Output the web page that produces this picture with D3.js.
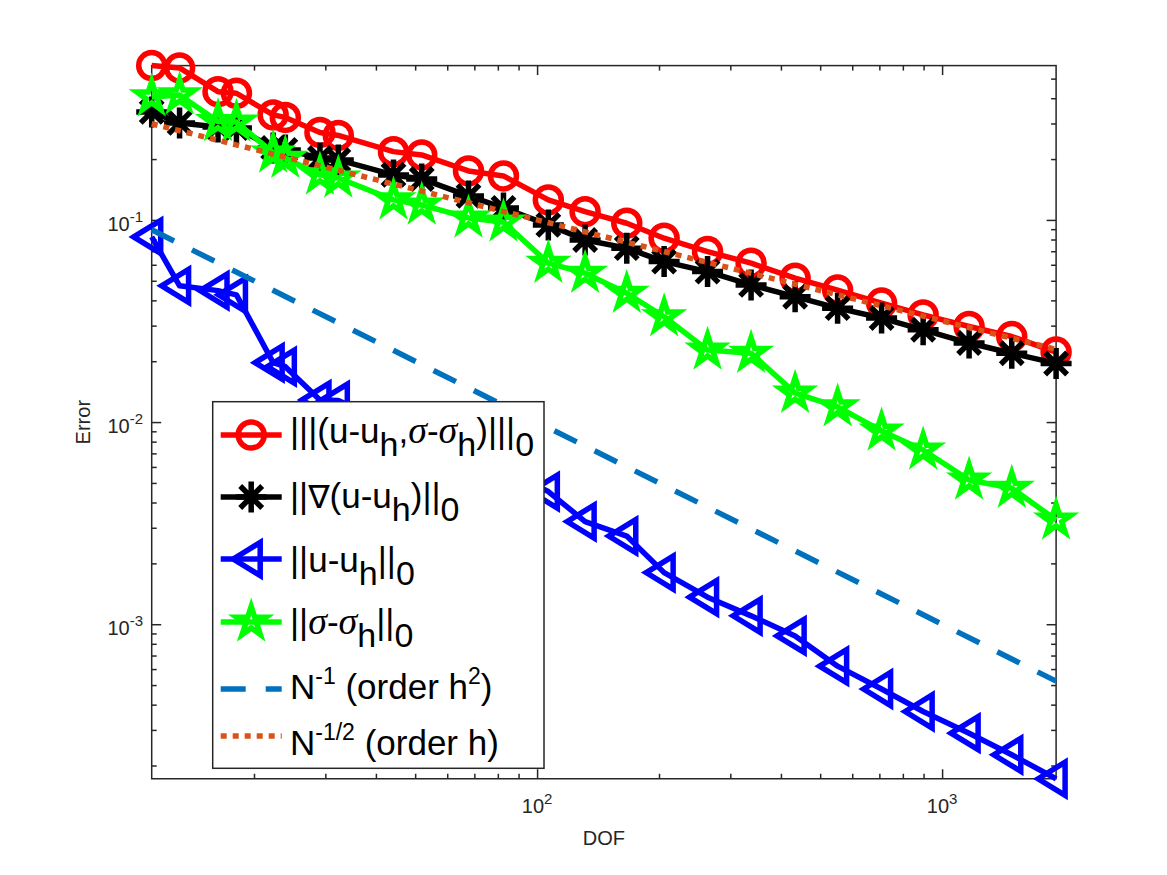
<!DOCTYPE html>
<html>
<meta charset="utf-8">
<head>
  <title>Error vs DOF</title>
  <style>
    body { margin: 0; background: white; }
    text { font-family: 'Liberation Sans', Arial, Helvetica, sans-serif; fill: #262626; white-space: pre; }
    .axis .domain { display: none; }
    .axis line { stroke: #262626; stroke-width: 1.5; }
    .frame { fill: none; stroke: #262626; stroke-width: 1.5; }
    .legend text { fill: #000000; }
  </style>
  <script src="https://d3js.org/d3.v7.min.js"></script>
</head>
<body>
<div id="chart"></div>
<script>
// degrees of freedom on each refinement level
var dof = [11.18, 13.1, 16.3, 18.1, 22.3, 23.9, 29.1, 32.3, 44.2, 51.9,
           67.7, 82.6, 106.6, 131.4, 166.5, 205.9, 263.6, 337.6, 433.6, 552.1,
           708.9, 897.8, 1166, 1486, 1912];
// |||(u-uh, sigma-sigmah)|||_0
var errEnergy = [0.580, 0.5647, 0.4311, 0.4233, 0.3307, 0.3214, 0.2709, 0.2618, 0.2177, 0.2097,
                 0.1747, 0.1651, 0.1256, 0.1099, 0.0963, 0.0812, 0.0697, 0.0611, 0.0515, 0.0450,
                 0.0388, 0.0339, 0.0297, 0.0265, 0.0222];
// ||grad(u-uh)||_0
var errGrad = [0.3422, 0.3019, 0.2884, 0.2851, 0.2271, 0.2220, 0.2026, 0.1980, 0.1670, 0.1595,
               0.1315, 0.1147, 0.0945, 0.0796, 0.0725, 0.0622, 0.0555, 0.0477, 0.0417, 0.0366,
               0.0327, 0.0286, 0.0246, 0.0219, 0.0195];
// ||u-uh||_0
var errL2 = [0.0824, 0.0472, 0.0447, 0.0426, 0.01968, 0.01880, 0.01287, 0.01277, 0.00968, 0.00884,
             0.00688, 0.00580, 0.00453, 0.00322, 0.00273, 0.00180, 0.00136, 0.00110, 0.000875, 0.000620,
             0.000478, 0.000370, 0.000289, 0.000226, 0.000172];
// ||sigma-sigmah||_0
var errSigma = [0.4060, 0.4154, 0.3064, 0.3050, 0.2145, 0.2019, 0.1670, 0.1613, 0.1256, 0.1186,
                0.1023, 0.0977, 0.0611, 0.0545, 0.0434, 0.0332, 0.0227, 0.0219, 0.0139, 0.0119,
                0.00904, 0.00728, 0.00517, 0.00471, 0.00328];
// reference slopes (end points)
var refDof = [11.18, 1912];
var refOrder2 = [0.0894, 0.000523];
var refOrder1 = [0.299, 0.0229];

var xTicks = [100, 1000];
var xTickExp = ["2", "3"];
var yTicks = [0.001, 0.01, 0.1];
var yTickExp = ["-3", "-2", "-1"];

// legend label pieces: n normal, b subscript, p superscript, s sigma, g nabla
var legendLabels = [
  [["|||(u-u","n"],["h","b"],[",","n"],["σ","s"],["-","n"],["σ","s"],["h","b"],[")|||","n"],["0","b"]],
  [["||","n"],["∇","g"],["(u-u","n"],["h","b"],[")||","n"],["0","b"]],
  [["||u-u","n"],["h","b"],["||","n"],["0","b"]],
  [["||","n"],["σ","s"],["-","n"],["σ","s"],["h","b"],["||","n"],["0","b"]],
  [["N","n"],["-1","p"],[" (order h","n"],["2","p"],[")","n"]],
  [["N","n"],["-1/2","p"],[" (order h)","n"]]
];

draw();

function draw() {
  var W = 1167, H = 875;
  var plotL = 151.7, plotT = 65.6, plotR = 1056.1, plotB = 778.75;
  var lw = 5.5;

  var svg = d3.select("#chart").append("svg")
              .attr("width", W)
              .attr("height", H);

  var allErr = errEnergy.concat(errGrad, errL2, errSigma);
  var x = d3.scaleLog().domain(d3.extent(dof)).range([plotL, plotR]);
  var y = d3.scaleLog().domain(d3.extent(allErr)).range([plotB, plotT]);

  // minor ticks
  var xMinor = [], yMinor = [];
  [10, 100].forEach(function(b) { for (var k = 2; k < 10; k++) if (b*k > x.domain()[0] && b*k < x.domain()[1]) xMinor.push(b*k); });
  [0.0001, 0.001, 0.01, 0.1].forEach(function(b) { for (var k = 2; k < 10; k++) if (b*k > y.domain()[0] && b*k < y.domain()[1]) yMinor.push(b*k); });

  function addAxis(axis, tx, ty) {
    svg.append("g").attr("class", "axis")
       .attr("transform", "translate(" + tx + "," + ty + ")")
       .call(axis);
  }
  addAxis(d3.axisBottom(x).tickValues(xTicks).tickSize(-9.5).tickSizeOuter(0).tickFormat(""), 0, plotB);
  addAxis(d3.axisBottom(x).tickValues(xMinor).tickSize(-5).tickSizeOuter(0).tickFormat(""), 0, plotB);
  addAxis(d3.axisTop(x).tickValues(xTicks).tickSize(-9.5).tickSizeOuter(0).tickFormat(""), 0, plotT);
  addAxis(d3.axisTop(x).tickValues(xMinor).tickSize(-5).tickSizeOuter(0).tickFormat(""), 0, plotT);
  addAxis(d3.axisLeft(y).tickValues(yTicks).tickSize(-9.5).tickSizeOuter(0).tickFormat(""), plotL, 0);
  addAxis(d3.axisLeft(y).tickValues(yMinor).tickSize(-5).tickSizeOuter(0).tickFormat(""), plotL, 0);
  addAxis(d3.axisRight(y).tickValues(yTicks).tickSize(-9.5).tickSizeOuter(0).tickFormat(""), plotR, 0);
  addAxis(d3.axisRight(y).tickValues(yMinor).tickSize(-5).tickSizeOuter(0).tickFormat(""), plotR, 0);

  svg.append("rect").attr("class", "frame")
     .attr("x", plotL).attr("y", plotT)
     .attr("width", plotR - plotL).attr("height", plotB - plotT);

  // tick labels 10^k
  xTicks.forEach(function(v, i) {
    var t = svg.append("text").attr("x", x(v)).attr("y", plotB + 34)
               .attr("text-anchor", "middle").style("font-size", "20px");
    t.append("tspan").text("10");
    t.append("tspan").attr("dy", -9).style("font-size", "15px").text(xTickExp[i]);
  });
  yTicks.forEach(function(v, i) {
    var t = svg.append("text").attr("x", 143).attr("y", y(v) + 11)
               .attr("text-anchor", "end").style("font-size", "20px");
    t.append("tspan").text("10");
    t.append("tspan").attr("dy", -9).style("font-size", "15px").text(yTickExp[i]);
  });

  svg.append("text").attr("x", (plotL + plotR) / 2).attr("y", 845)
     .attr("text-anchor", "middle").style("font-size", "20px").text("DOF");
  svg.append("text").attr("transform", "translate(90," + ((plotT + plotB) / 2) + ") rotate(-90)")
     .attr("text-anchor", "middle").style("font-size", "20px").text("Error");

  // marker shapes
  function circlePath() { var p = d3.path(); p.moveTo(13, 0); p.arc(0, 0, 13, 0, 2 * Math.PI); p.closePath(); return p.toString(); }
  function asteriskPath() { return "M0,-15.5L0,15.5M-15.5,0L15.5,0M-11,-11L11,11M-11,11L11,-11"; }
  function triangleLeftPath() { return "M-18,0L9,-16.5L9,16.5Z"; }
  function pentagramPath() {
    var pts = [];
    for (var k = 0; k < 10; k++) {
      var r = (k % 2 === 0) ? 15.5 : 15.5 * 0.382;
      var a = -Math.PI / 2 + k * Math.PI / 5;
      pts.push([r * Math.cos(a), r * Math.sin(a)]);
    }
    return "M" + pts.join("L") + "Z";
  }

  var series = [
    { vals: errEnergy, color: "#ff0000", marker: circlePath() },
    { vals: errGrad,   color: "#000000", marker: asteriskPath() },
    { vals: errL2,     color: "#0000ff", marker: triangleLeftPath() },
    { vals: errSigma,  color: "#00ff00", marker: pentagramPath() }
  ];

  var line = d3.line().x(function(d) { return x(d[0]); }).y(function(d) { return y(d[1]); });

  series.forEach(function(s) {
    var pts = dof.map(function(d, i) { return [d, s.vals[i]]; });
    svg.append("path").attr("d", line(pts))
       .attr("fill", "none").attr("stroke", s.color)
       .attr("stroke-width", lw).attr("stroke-linejoin", "round");
    svg.selectAll(null).data(pts).enter().append("path")
       .attr("d", s.marker)
       .attr("transform", function(d) { return "translate(" + x(d[0]) + "," + y(d[1]) + ")"; })
       .attr("fill", "none").attr("stroke", s.color).attr("stroke-width", lw);
  });

  svg.append("path").attr("d", line(refDof.map(function(d, i) { return [d, refOrder2[i]]; })))
     .attr("fill", "none").attr("stroke", "#0072bd").attr("stroke-width", lw)
     .attr("stroke-dasharray", "25,20");
  svg.append("path").attr("d", line(refDof.map(function(d, i) { return [d, refOrder1[i]]; })))
     .attr("fill", "none").attr("stroke", "#d95319").attr("stroke-width", lw)
     .attr("stroke-dasharray", "6,6");

  // legend
  var legRows = [435, 497, 559, 622, 689, 736];
  var legBase = [443, 508, 572, 634, 699, 755];
  var legStyles = [
    { color: "#ff0000", marker: circlePath() },
    { color: "#000000", marker: asteriskPath() },
    { color: "#0000ff", marker: triangleLeftPath() },
    { color: "#00ff00", marker: pentagramPath() },
    { color: "#0072bd", dash: "25,20" },
    { color: "#d95319", dash: "6,6" }
  ];
  var leg = svg.append("g").attr("class", "legend");
  leg.append("rect").attr("x", 212.7).attr("y", 401.7).attr("width", 331.3).attr("height", 366.6)
     .attr("fill", "white").attr("stroke", "#262626").attr("stroke-width", 1.5);

  legendLabels.forEach(function(segs, i) {
    var st = legStyles[i], ly = legRows[i];
    leg.append("line").attr("x1", 220.7).attr("x2", 281.7).attr("y1", ly).attr("y2", ly)
       .attr("stroke", st.color).attr("stroke-width", lw)
       .attr("stroke-dasharray", st.dash || null);
    if (st.marker) {
      leg.append("path").attr("d", st.marker)
         .attr("transform", "translate(251.2," + ly + ")")
         .attr("fill", "none").attr("stroke", st.color).attr("stroke-width", lw);
    }
    var t = leg.append("text").attr("x", 290).attr("y", legBase[i]).style("font-size", "35px");
    var shift = 0;
    segs.forEach(function(s) {
      var target = s[1] == "b" ? 13 : (s[1] == "p" ? -15 : 0);
      var sp = t.append("tspan").attr("dy", target - shift).text(s[0]);
      shift = target;
      if (s[1] == "b") sp.style("font-size", "34px");
      if (s[1] == "p") sp.style("font-size", "23px");
      if (s[1] == "s") sp.style("font-family", "'Liberation Serif', serif").style("font-style", "italic").style("font-size", "38px");
      if (s[1] == "g") sp.style("font-family", "'DejaVu Sans', sans-serif").style("font-size", "32px");
    });
  });
}
</script>
</body>
</html>
